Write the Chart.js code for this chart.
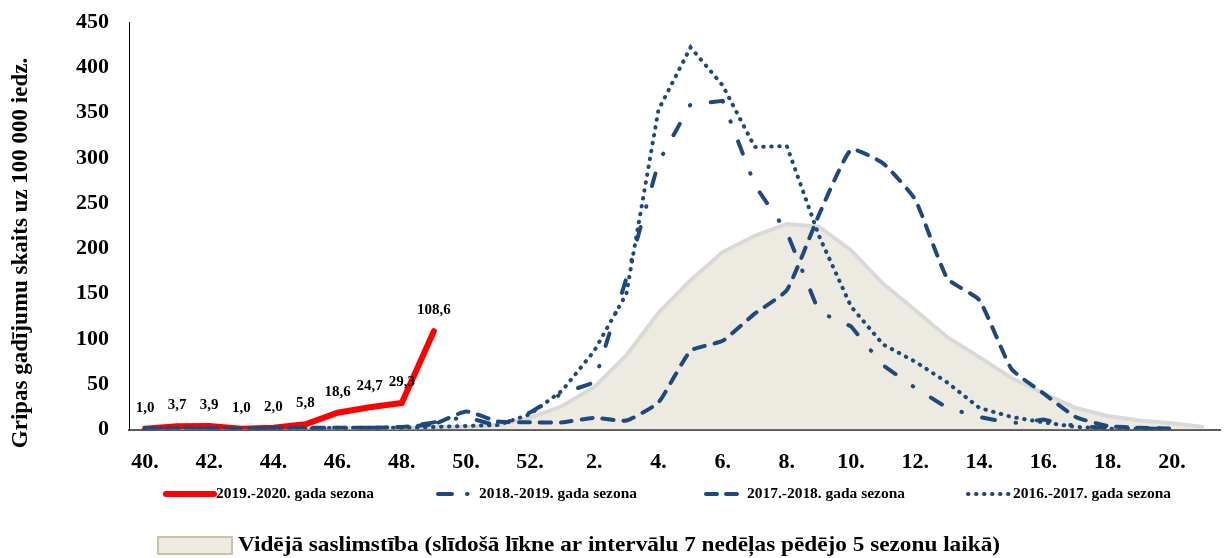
<!DOCTYPE html>
<html>
<head>
<meta charset="utf-8">
<script src="https://cdn.jsdelivr.net/npm/chart.js@4.4.1/dist/chart.umd.min.js"></script>
<style>
  html, body { margin: 0; padding: 0; background: #fff; }
  #wrap { width: 1224px; height: 558px; }
</style>
</head>
<body>
<div id="wrap"><canvas id="gripa" width="1224" height="558"></canvas></div>
<script>
// nedēļas: 40.-52. un 1.-21.
const weeks = [40, 41, 42, 43, 44, 45, 46, 47, 48, 49, 50, 51, 52,
  1, 2, 3, 4, 5, 6, 7, 8, 9, 10, 11, 12, 13, 14, 15, 16, 17, 18, 19, 20, 21];
const weekLabels = weeks.map(w => w + '.');

const yTicks = [0, 50, 100, 150, 200, 250, 300, 350, 400, 450];

// 2019.-2020. (tikai līdz 49. nedēļai)
const s2019 = [1.0, 3.7, 3.9, 1.0, 2.0, 5.8, 18.6, 24.7, 29.3, 108.6];

// 2018.-2019.
const s2018 = [1, 1, 1, 1, 1, 1, 1, 2, 2, 8, 14, 4, 19,
  40, 52, 167, 295, 359, 363, 270, 218, 130, 114, 71, 46, 24, 14, 7, 11, 4, 2, 1, 1, null];

// 2017.-2018.
const s2017 = [1, 1, 1, 1, 2, 2, 2, 2, 3, 6, 20, 9, 8,
  8, 13, 10, 30, 87, 98, 128, 154, 237, 309, 294, 254, 167, 143, 67, 40, 14, 4, 2, 1, null];

// 2016.-2017.
const s2016 = [2, 2, 2, 1, 1, 1, 2, 2, 2, 3, 4, 5, 17,
  43, 87, 150, 353, 422, 380, 312, 313, 214, 136, 94, 75, 52, 24, 14, 8, 3, 1, 1, 1, null];

// vidējā saslimstība
const avg = [1, 1, 1, 1, 1, 2, 2, 2, 2, 3, 3, 5, 13,
  26, 47, 82, 129, 165, 196, 214, 227, 224, 198, 161, 132, 102, 80, 57, 40, 24, 15, 10, 7, 3];

const yTitle = 'Gripas gadījumu skaits uz 100 000 iedz.';

const blue = '#1F497D';
const serif = '"Liberation Serif", "Times New Roman", serif';
Chart.defaults.font.family = serif;
Chart.defaults.color = '#000';

const redLabels = {
  id: 'redLabels',
  afterDatasetsDraw(chart) {
    const ctx = chart.ctx;
    const meta = chart.getDatasetMeta(0);
    ctx.save();
    ctx.font = 'bold 15px ' + serif;
    ctx.fillStyle = '#000';
    ctx.textAlign = 'center';
    ctx.textBaseline = 'middle';
    meta.data.forEach((pt, i) => {
      const v = s2019[i];
      if (v == null) return;
      ctx.fillText(v.toFixed(1).replace('.', ','), pt.x, pt.y - 21);
    });
    ctx.restore();
  }
};

// y ass nosaukums, nedaudz zemāk par centru kā oriģinālā
const sideTitle = {
  id: 'sideTitle',
  afterDraw(chart) {
    const ctx = chart.ctx;
    ctx.save();
    ctx.translate(21, 253);
    ctx.rotate(-Math.PI / 2);
    ctx.font = 'bold 23px ' + serif;
    ctx.fillStyle = '#000';
    ctx.textAlign = 'center';
    ctx.textBaseline = 'middle';
    ctx.fillText(yTitle, 0, 0);
    ctx.restore();
  }
};

const legendRows = {
  id: 'legendRows',
  afterDraw(chart) {
    const ctx = chart.ctx;
    const ds = chart.data.datasets;
    const y1 = 494;
    const items = [
      { i: 0, x0: 166, x1: 214, tx: 216, dash: [] },
      { i: 1, x0: 438, x1: 470, tx: 479, dash: [14, 15, 0.5, 100] },
      { i: 2, x0: 706, x1: 742, tx: 747, dash: [11, 9] },
      { i: 3, x0: 968, x1: 1011, tx: 1013, dash: [0.5, 7.5] }
    ];
    ctx.save();
    items.forEach(it => {
      const d = ds[it.i];
      ctx.beginPath();
      ctx.setLineDash(it.dash);
      ctx.lineCap = d.borderCapStyle || 'butt';
      ctx.lineWidth = d.borderWidth;
      ctx.strokeStyle = d.borderColor;
      ctx.moveTo(it.x0, y1);
      ctx.lineTo(it.x1, y1);
      ctx.stroke();
      ctx.setLineDash([]);
      ctx.font = 'bold 14px ' + serif;
      ctx.fillStyle = '#000';
      ctx.textBaseline = 'middle';
      const w = ctx.measureText(d.label).width;
      ctx.save();
      ctx.translate(it.tx, y1);
      ctx.scale(158 / w, 1);
      ctx.fillText(d.label, 0, 0);
      ctx.restore();
    });
    // vidējā saslimstība
    const a = ds[4];
    ctx.fillStyle = a.backgroundColor;
    ctx.fillRect(158, 537, 74, 17);
    ctx.strokeStyle = '#C9C2A6';
    ctx.lineWidth = 2;
    ctx.strokeRect(158, 537, 74, 17);
    ctx.font = 'bold 21px ' + serif;
    ctx.fillStyle = '#000';
    ctx.textBaseline = 'middle';
    const w2 = ctx.measureText(a.label).width;
    ctx.save();
    ctx.translate(238, 546);
    ctx.scale(762 / w2, 1);
    ctx.fillText(a.label, 0, 0);
    ctx.restore();
    ctx.restore();
  }
};

new Chart(document.getElementById('gripa'), {
  type: 'line',
  data: {
    labels: weekLabels,
    datasets: [
      {
        label: '2019.-2020. gada sezona',
        data: s2019,
        borderColor: '#FF0000',
        borderWidth: 6,
        borderCapStyle: 'round',
        pointRadius: 0,
        tension: 0,
        order: 5
      },
      {
        label: '2018.-2019. gada sezona',
        data: s2018,
        borderColor: blue,
        borderWidth: 4,
        borderDash: [13, 21, 0.5, 21],
        borderCapStyle: 'round',
        pointRadius: 0,
        tension: 0,
        order: 2
      },
      {
        label: '2017.-2018. gada sezona',
        data: s2017,
        borderColor: blue,
        borderWidth: 4,
        borderDash: [11, 10],
        borderCapStyle: 'round',
        pointRadius: 0,
        tension: 0.15,
        order: 3
      },
      {
        label: '2016.-2017. gada sezona',
        data: s2016,
        borderColor: blue,
        borderWidth: 4,
        borderDash: [0.5, 7.5],
        borderCapStyle: 'round',
        pointRadius: 0,
        tension: 0,
        order: 4
      },
      {
        label: 'Vidējā saslimstība (slīdošā līkne ar intervālu 7 nedēļas pēdējo 5 sezonu laikā)',
        data: avg,
        borderColor: '#D9D9D9',
        backgroundColor: '#EDEBE1',
        borderWidth: 4,
        fill: 'origin',
        pointRadius: 0,
        tension: 0,
        order: 10
      }
    ]
  },
  options: {
    responsive: false,
    devicePixelRatio: 1,
    animation: false,
    layout: { padding: { left: 56, right: 1, top: 0, bottom: 62 } },
    plugins: {
      legend: { display: false },
      tooltip: { enabled: false }
    },
    scales: {
      x: {
        offset: true,
        grid: { display: false, drawTicks: false },
        border: { display: true, color: '#595959', width: 2 },
        ticks: {
          autoSkip: false,
          maxRotation: 0,
          padding: 20,
          font: { size: 22, weight: 'bold' },
          callback: (val, i) => (i % 2 === 0 ? weekLabels[i] : '')
        }
      },
      y: {
        min: 0,
        max: 450,
        afterBuildTicks: axis => { axis.ticks = yTicks.map(v => ({ value: v })); },
        afterFit: axis => { axis.paddingTop = 22; axis.paddingBottom = 13; },
        grid: { display: false, drawTicks: false },
        border: { display: true, color: '#000', width: 1 },
        ticks: {
          padding: 20,
          font: { size: 22, weight: 'bold' }
        }
      }
    }
  },
  plugins: [redLabels, sideTitle, legendRows]
});
</script>
</body>
</html>
